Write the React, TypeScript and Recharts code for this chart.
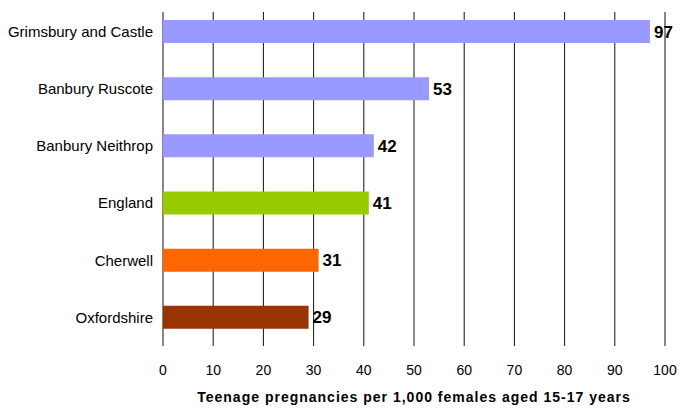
import { BarChart, Bar, XAxis, YAxis, CartesianGrid, Cell, LabelList } from "recharts";

const areas = [
  "Grimsbury and Castle",
  "Banbury Ruscote",
  "Banbury Neithrop",
  "England",
  "Cherwell",
  "Oxfordshire",
];
const rates = [97, 53, 42, 41, 31, 29];
const barColors = ["#9999ff", "#9999ff", "#9999ff", "#99cc00", "#ff6600", "#993300"];
const xTicks = [0, 10, 20, 30, 40, 50, 60, 70, 80, 90, 100];

const data = areas.map((name, i) => ({ name, value: rates[i] }));

const FONT = "'Liberation Sans', Arial, sans-serif";

export default function App() {
  return (
    <div style={{ position: "absolute", left: 0, top: 0, width: 680, height: 412, background: "#fff" }}>
      <BarChart
        width={680}
        height={412}
        data={data}
        layout="vertical"
        margin={{ top: 3, right: 15, bottom: 0, left: 0 }}
        barCategoryGap={0}
      >
        <CartesianGrid
          horizontal={false}
          stroke="#000"
          vertical={(p: any) => (
            <line key={p.key} x1={p.x1} x2={p.x2} y1={p.y1 + 9} y2={p.y2} stroke="#111" strokeWidth={1} />
          )}
        />
        <XAxis
          type="number"
          domain={[0, 100]}
          ticks={xTicks}
          interval={0}
          axisLine={false}
          tickLine={false}
          tickSize={19}
          tickMargin={0}
          height={66}
          tick={{ fontSize: 14, fill: "#000", fontFamily: FONT }}
          label={{
            value: "Teenage pregnancies per 1,000 females aged 15-17 years",
            position: "insideBottom",
            offset: 10,
            style: { fontSize: 14, fontWeight: 700, fill: "#000", fontFamily: FONT, letterSpacing: 1 },
          }}
        />
        <YAxis
          type="category"
          dataKey="name"
          width={163}
          axisLine={false}
          tickLine={false}
          tickSize={10}
          tickMargin={0}
          tick={{ fontSize: 15, fill: "#000", fontFamily: FONT }}
        />
        <Bar dataKey="value" barSize={23} isAnimationActive={false}>
          {data.map((d, i) => (
            <Cell key={d.name} fill={barColors[i]} />
          ))}
          <LabelList
            dataKey="value"
            position="right"
            offset={4}
            style={{ fontSize: 17, fontWeight: 700, fill: "#000", fontFamily: FONT }}
          />
        </Bar>
      </BarChart>
    </div>
  );
}
